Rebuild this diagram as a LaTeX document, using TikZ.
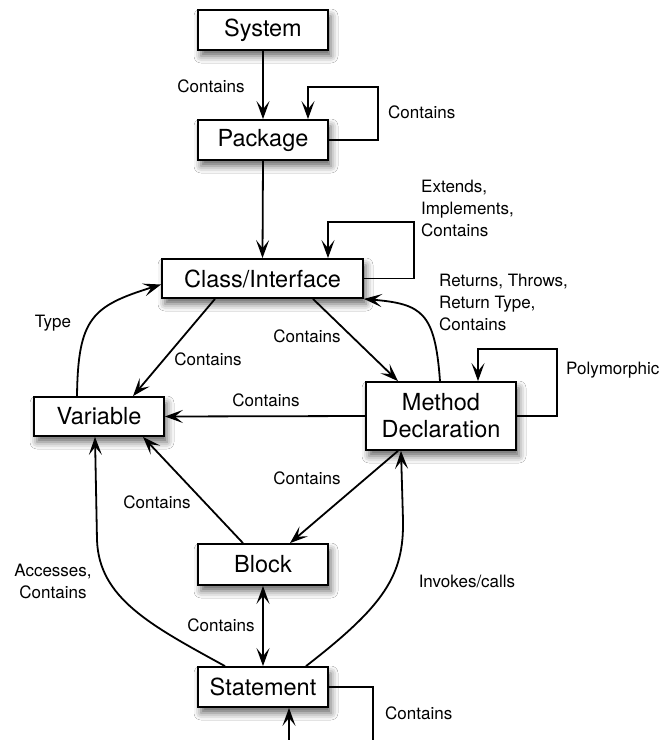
\documentclass[tikz,border=0pt]{standalone}
\usepackage{fontspec}
\setmainfont{TeX Gyre Heros}
\usetikzlibrary{arrows.meta,shadows.blur}

\tikzset{
  entity/.style={draw=black, line width=1.8pt, fill=white, inner sep=0pt,
    font=\fontsize{23.5}{27}\selectfont, align=center,
    blur shadow={shadow xshift=3pt, shadow yshift=-6pt, shadow blur radius=7pt, shadow opacity=60}},
  tip/.tip={Stealth[length=18pt,width=13pt,inset=8pt]},
  rel/.style={line width=1.8pt, -tip},
  birel/.style={line width=1.8pt, tip-tip},
  lbl/.style={font=\fontsize{17}{22}\selectfont, inner sep=0pt},
}

\begin{document}
\begin{tikzpicture}[x=1pt, y=-1pt]
  \clip (0,0) rectangle (663,740);
  \fill[white] (0,0) rectangle (663,740);

  % entities
  \node[entity, minimum width=130pt, minimum height=40pt] (sys) at (263,30) {System};
  \node[entity, minimum width=130pt, minimum height=40pt] (pkg) at (263,140) {Package};
  \node[entity, minimum width=201pt, minimum height=39pt] (cls) at (262.5,278.5) {Class/Interface};
  \node[entity, minimum width=130pt, minimum height=39pt] (var) at (99,416.5) {Variable};
  \node[entity, minimum width=150pt, minimum height=68pt] (md) at (441,416) {Method\\Declaration};
  \node[entity, minimum width=130pt, minimum height=41pt] (blk) at (263,564.5) {Block};
  \node[entity, minimum width=130pt, minimum height=40pt] (stm) at (263,687) {Statement};

  % loop corners
  \coordinate (pkgloop) at (378,87);
  \coordinate (clsloop) at (414,222);
  \coordinate (mdloop) at (557,349);
  \coordinate (stmloop) at (373,760);

  % relations
  \draw[rel] (sys.south) -- (pkg.north);
  \draw[rel] (pkg.east) -| (pkgloop) -| ([xshift=45pt]pkg.north);
  \draw[rel] (pkg.south) -- (cls.north);
  \draw[rel] (cls.east) -| (clsloop) -| ([xshift=65.5pt]cls.north);
  \draw[rel] ([xshift=-47.5pt]cls.south) -- ([xshift=34pt]var.north);
  \draw[rel] ([xshift=50.5pt]cls.south) -- ([xshift=-43pt]md.north);
  \draw[rel] ([xshift=-1pt]md.north) .. controls (435,312) and (422,304) .. (cls.south east);
  \draw[rel] ([xshift=-22pt]var.north) .. controls (78,318) and (92,306) .. ([yshift=-6pt]cls.west);
  \draw[rel] (md.east) -| (mdloop) -| ([xshift=37pt]md.north);
  \draw[rel] (md.west) -- (var.east);
  \draw[rel] ([xshift=-43pt]md.south) -- ([xshift=27pt]blk.north);
  \draw[rel] ([xshift=-20pt]blk.north) -- ([xshift=44pt]var.south);
  \draw[birel] (blk.south) -- (stm.north);
  \draw[rel] ([xshift=43pt]stm.north) .. controls (385,605) and (404,575) .. (403,520) -- ([xshift=-40pt]md.south);
  \draw[rel] ([xshift=-38pt]stm.north) .. controls (150,625) and (99,598) .. (97,540) -- ([xshift=-4pt]var.south);
  \draw[rel] (stm.east) -| (stmloop) -| ([xshift=26pt]stm.south);

  % relation labels
  \node[lbl] (l1) at (211,86) {Contains};
  \node[lbl, anchor=west] (l2) at (388,112) {Contains};
  \node[lbl, anchor=west, align=left] (l3) at (421,208) {Extends,\\Implements,\\Contains};
  \node[lbl, anchor=west, align=left] (l4) at (439,302) {Returns, Throws,\\Return Type,\\Contains};
  \node[lbl] (l5) at (53,323) {Type};
  \node[lbl] (l6) at (208,359) {Contains};
  \node[lbl] (l7) at (307,336) {Contains};
  \node[lbl, anchor=west] (l8) at (566,370) {Polymorphic};
  \node[lbl] (l9) at (266,400) {Contains};
  \node[lbl] (l10) at (307,478) {Contains};
  \node[lbl] (l11) at (157,502) {Contains};
  \node[lbl, align=center] (l12) at (53,581) {Accesses,\\Contains};
  \node[lbl] (l13) at (467,581) {Invokes/calls};
  \node[lbl] (l14) at (221,625) {Contains};
  \node[lbl, anchor=west] (l15) at (385,713) {Contains};
\end{tikzpicture}
\end{document}
